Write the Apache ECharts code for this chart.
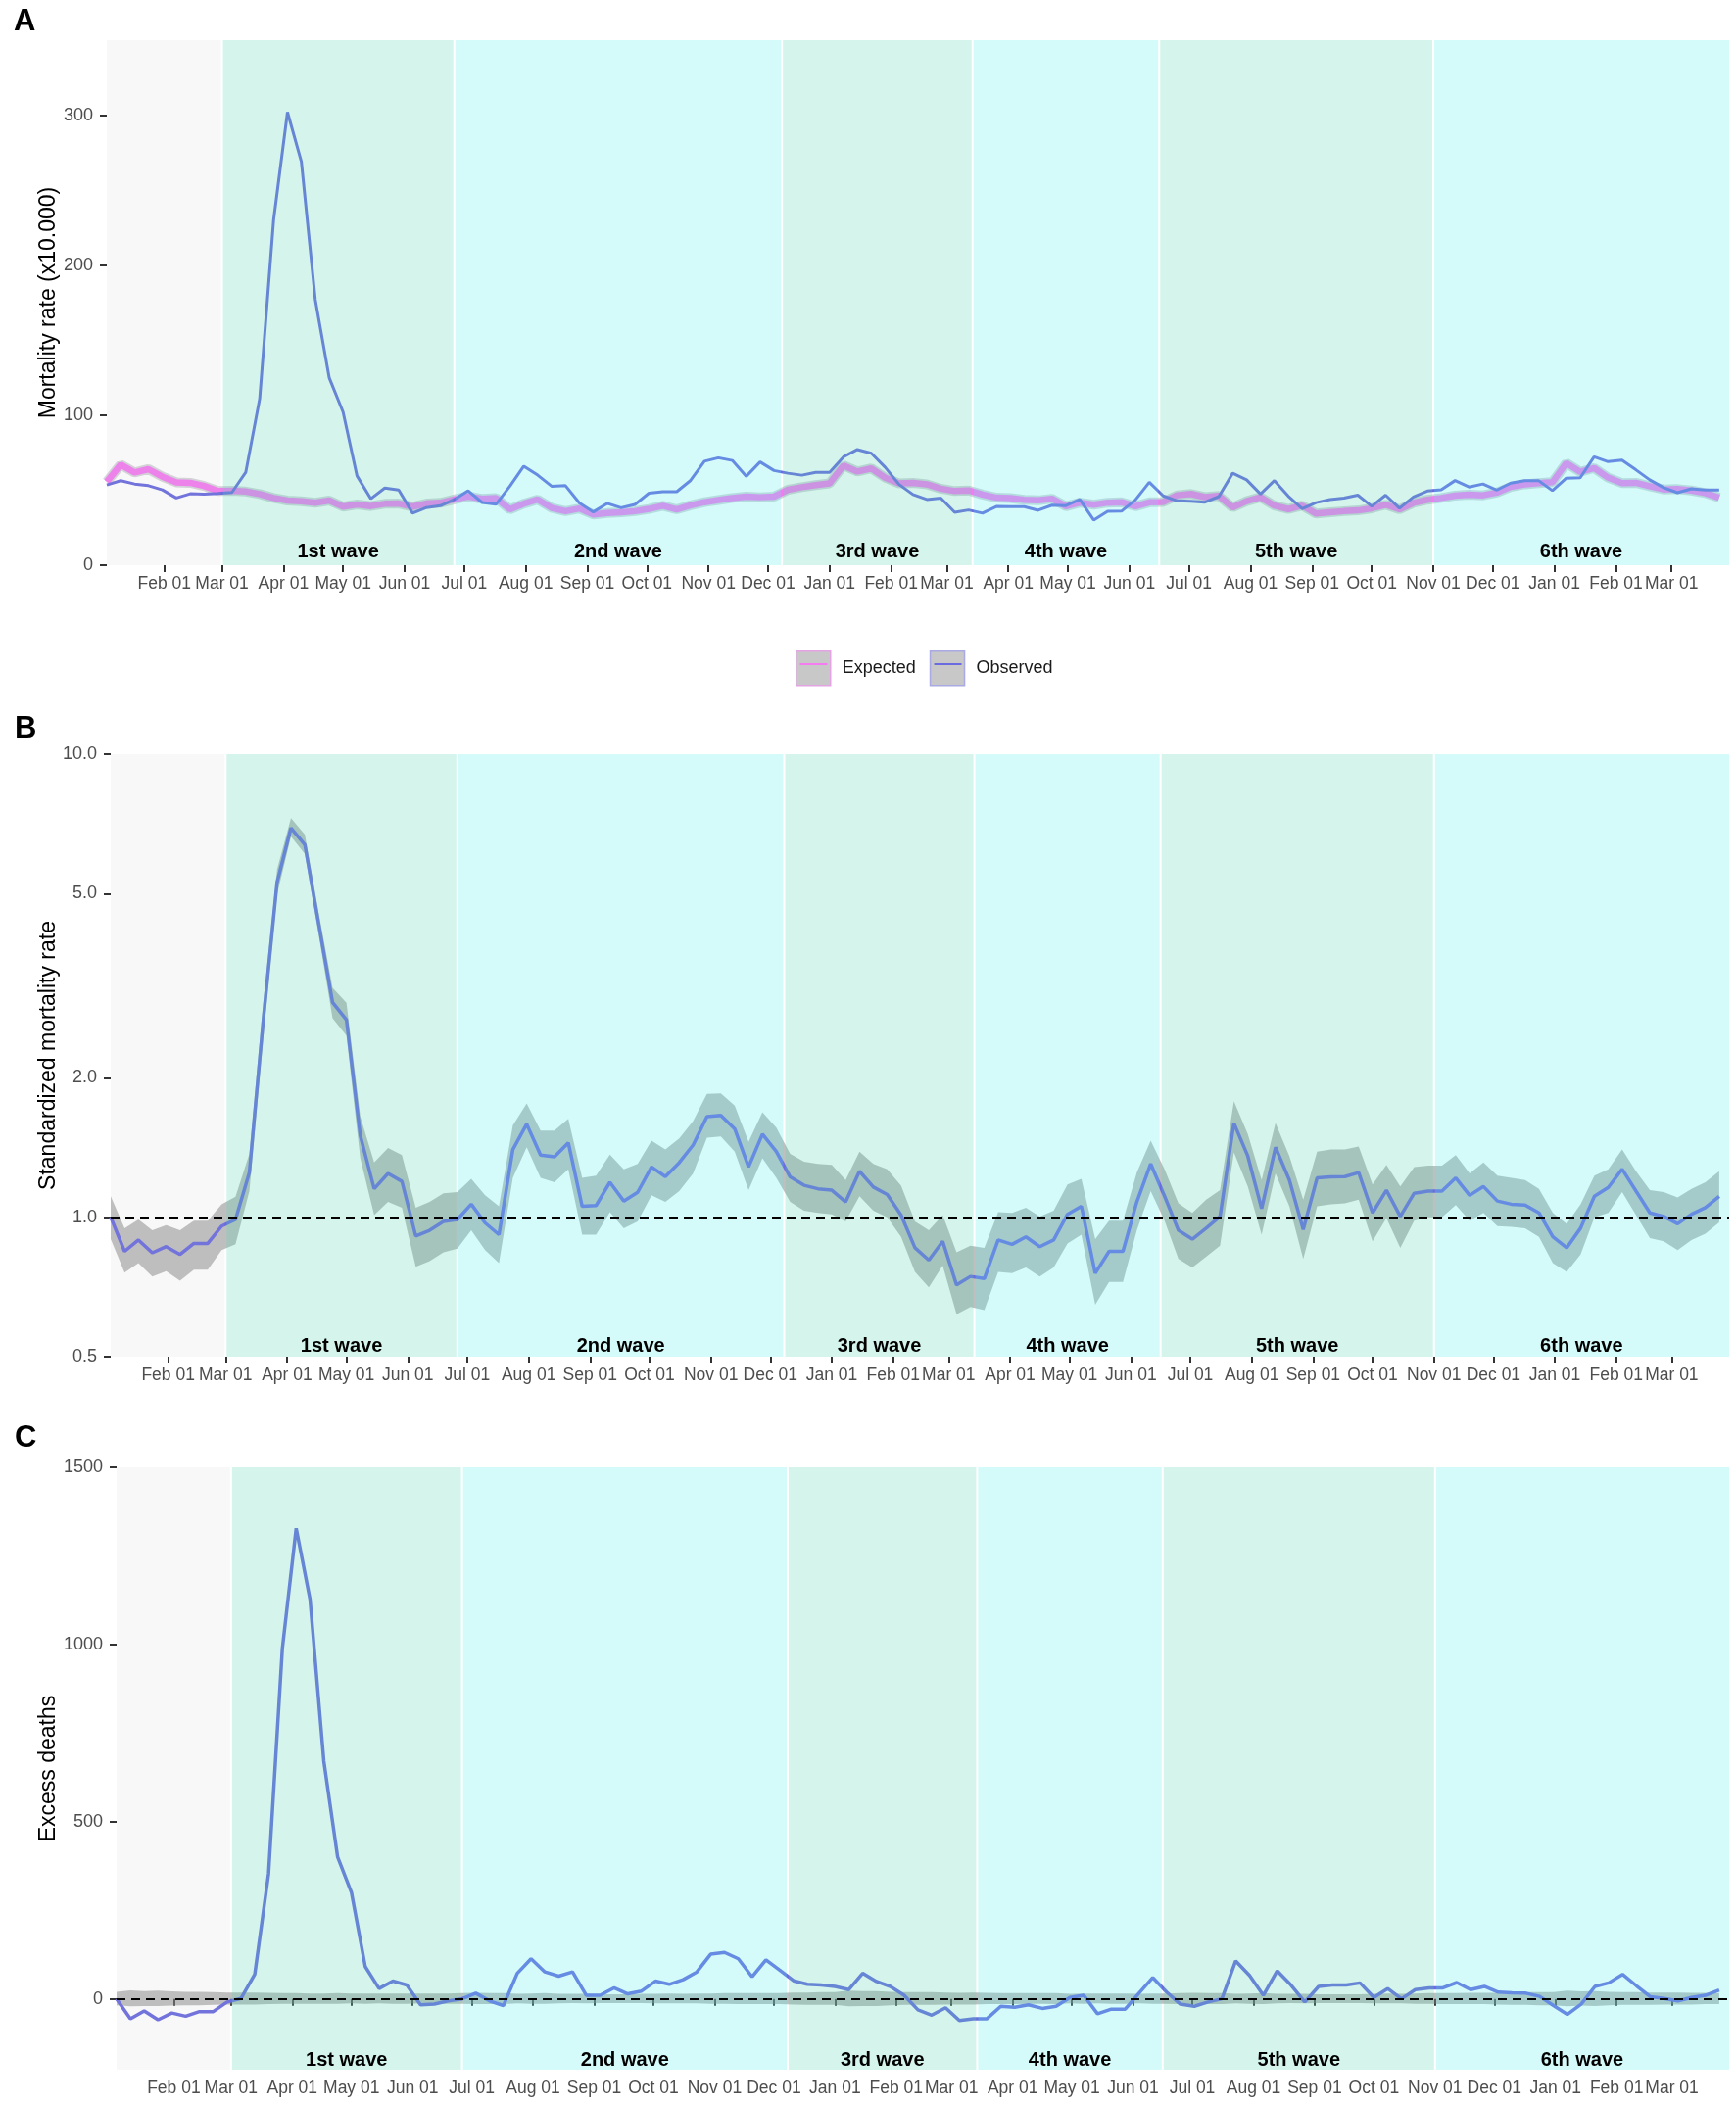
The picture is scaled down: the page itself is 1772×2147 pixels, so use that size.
<!DOCTYPE html>
<html>
<head>
<meta charset="utf-8">
<script src="https://cdn.jsdelivr.net/npm/echarts@6/dist/echarts.min.js"></script>
<style>
  html, body { margin: 0; padding: 0; background: #fff; }
  #chart { width: 1772px; height: 2147px; }
</style>
</head>
<body>
<div id="chart"></div>
<script>
// weekly series, first week on 2020-01-03
const firstWeek = '2020-01-03';
const weekCount = 117;
const xStart = '2020-01-03';
const xEnd = '2022-03-30';

const monthTicks = [
  '2020-02-01', '2020-03-01', '2020-04-01', '2020-05-01', '2020-06-01', '2020-07-01',
  '2020-08-01', '2020-09-01', '2020-10-01', '2020-11-01', '2020-12-01', '2021-01-01',
  '2021-02-01', '2021-03-01', '2021-04-01', '2021-05-01', '2021-06-01', '2021-07-01',
  '2021-08-01', '2021-09-01', '2021-10-01', '2021-11-01', '2021-12-01', '2022-01-01',
  '2022-02-01', '2022-03-01'
];
const monthNames = ['Jan', 'Feb', 'Mar', 'Apr', 'May', 'Jun', 'Jul', 'Aug', 'Sep', 'Oct', 'Nov', 'Dec'];

// periods shaded in the background
const waveStarts = ['2020-01-03', '2020-03-01', '2020-06-26', '2020-12-08', '2021-03-14', '2021-06-16', '2021-11-01'];
const waveLabels = ['', '1st wave', '2nd wave', '3rd wave', '4th wave', '5th wave', '6th wave'];
const waveKinds = ['pre', 'mint', 'cyan', 'mint', 'cyan', 'mint', 'cyan'];

// A: mortality rate (x10.000)
const observedRate = [
  53.5, 56.3, 54.1, 53.0, 50.2, 44.8, 47.6, 47.4, 47.8, 48.5,
  62.0, 111, 230, 302, 269, 177, 125, 102, 59.5, 44.3,
  51.4, 50.1, 34.7, 38.4, 39.6, 43.8, 49.6, 41.8, 40.6, 52.6,
  66.0, 60.0, 52.6, 53.0, 41.5, 35.5, 41.2, 38.3, 40.5, 48.0,
  49.0, 49.0, 56.5, 69.3, 71.6, 69.8, 59.2, 68.8, 63.1, 61.3,
  60.0, 61.9, 61.8, 72.2, 77.1, 74.6, 65.2, 53.8, 47.1, 43.8,
  44.7, 35.3, 36.8, 34.7, 39.1, 39.0, 39.0, 36.6, 40.0, 39.7,
  43.8, 30.1, 35.9, 36.0, 43.5, 55.3, 46.2, 42.9, 42.6, 42.0,
  45.7, 61.3, 56.9, 47.4, 56.4, 46.0, 37.6, 41.7, 43.8, 44.7,
  46.7, 39.3, 46.7, 38.0, 45.5, 49.4, 50.3, 56.4, 52.1, 54.1,
  50.1, 54.7, 56.3, 56.4, 49.7, 58.0, 58.3, 72.2, 69.0, 70.0,
  63.6, 56.9, 51.7, 48.3, 50.9, 50.1, 50.1
];
const expectedRate = [
  55.6, 67.0, 61.8, 64.0, 59.0, 55.2, 54.9, 52.8, 49.5, 49.6,
  49.1, 47.4, 44.8, 43.1, 42.6, 41.6, 43.1, 39.0, 40.5, 39.4,
  40.9, 41.1, 39.0, 41.1, 41.6, 43.8, 45.9, 44.2, 44.8, 37.2,
  41.0, 43.8, 38.2, 36.0, 37.8, 33.8, 34.7, 35.2, 36.0, 37.5,
  39.6, 37.2, 39.9, 42.0, 43.4, 44.8, 45.7, 45.3, 45.7, 50.3,
  52.0, 53.4, 54.5, 66.5, 62.4, 64.5, 58.3, 54.5, 54.9, 53.9,
  51.0, 49.4, 49.8, 47.1, 45.0, 44.7, 43.6, 43.2, 44.3, 39.3,
  41.7, 40.3, 41.7, 42.0, 39.3, 41.9, 42.1, 46.6, 47.5, 45.4,
  46.2, 38.5, 42.7, 45.3, 39.7, 37.4, 39.7, 34.4, 35.3, 36.0,
  36.5, 37.9, 40.3, 37.2, 41.5, 43.6, 44.8, 46.4, 47.0, 46.6,
  48.4, 52.2, 53.9, 54.7, 55.3, 68.1, 62.2, 64.8, 58.4, 54.7,
  54.9, 52.7, 50.5, 50.7, 49.8, 48.1, 45.0
];

// B: standardized mortality rate with 95% CI
const smr = [
  1.00, 0.844, 0.893, 0.838, 0.864, 0.831, 0.878, 0.878, 0.957, 0.989,
  1.249, 2.66, 5.29, 6.93, 6.38, 4.30, 2.91, 2.67, 1.50, 1.152,
  1.243, 1.195, 0.911, 0.937, 0.979, 0.989, 1.067, 0.972, 0.917, 1.40,
  1.589, 1.362, 1.35, 1.448, 1.056, 1.060, 1.19, 1.084, 1.132, 1.284,
  1.224, 1.312, 1.432, 1.649, 1.66, 1.552, 1.284, 1.512, 1.386, 1.222,
  1.172, 1.152, 1.144, 1.079, 1.257, 1.162, 1.120, 1.011, 0.859, 0.808,
  0.887, 0.714, 0.745, 0.737, 0.893, 0.874, 0.907, 0.864, 0.893, 1.015,
  1.056, 0.757, 0.844, 0.844, 1.079, 1.304, 1.110, 0.937, 0.897, 0.947,
  1.004, 1.597, 1.356, 1.044, 1.416, 1.203, 0.941, 1.216, 1.222, 1.224,
  1.249, 1.022, 1.144, 1.004, 1.127, 1.139, 1.139, 1.216, 1.115, 1.165,
  1.084, 1.067, 1.063, 1.022, 0.907, 0.859, 0.947, 1.110, 1.160, 1.270,
  1.139, 1.022, 1.004, 0.968, 1.015, 1.049, 1.110
];
const smrHigh = [
  1.110, 0.947, 0.989, 0.937, 0.962, 0.937, 0.983, 0.983, 1.067, 1.108,
  1.371, 2.905, 5.64, 7.28, 6.71, 4.54, 3.13, 2.905, 1.650, 1.313,
  1.411, 1.362, 1.049, 1.079, 1.127, 1.134, 1.211, 1.115, 1.056, 1.579,
  1.761, 1.539, 1.539, 1.632, 1.216, 1.229, 1.365, 1.270, 1.304, 1.463,
  1.401, 1.479, 1.614, 1.847, 1.851, 1.742, 1.454, 1.686, 1.562, 1.371,
  1.318, 1.304, 1.298, 1.203, 1.386, 1.304, 1.270, 1.170, 0.979, 0.937,
  1.011, 0.840, 0.868, 0.859, 1.026, 1.022, 1.049, 1.004, 1.033, 1.177,
  1.211, 0.897, 0.983, 0.983, 1.249, 1.463, 1.270, 1.072, 1.022, 1.091,
  1.144, 1.780, 1.512, 1.203, 1.597, 1.356, 1.091, 1.386, 1.401, 1.401,
  1.422, 1.177, 1.298, 1.165, 1.284, 1.292, 1.292, 1.362, 1.243, 1.313,
  1.229, 1.216, 1.203, 1.152, 1.022, 0.968, 1.067, 1.229, 1.270, 1.401,
  1.257, 1.144, 1.134, 1.103, 1.152, 1.190, 1.257
];
const smrLow = [
  0.897, 0.759, 0.796, 0.745, 0.765, 0.729, 0.770, 0.770, 0.849, 0.874,
  1.139, 2.441, 4.98, 6.64, 6.09, 4.07, 2.69, 2.467, 1.341, 1.011,
  1.079, 1.049, 0.782, 0.804, 0.840, 0.855, 0.937, 0.849, 0.796, 1.216,
  1.416, 1.216, 1.190, 1.270, 0.917, 0.917, 1.026, 0.947, 0.979, 1.115,
  1.079, 1.139, 1.243, 1.486, 1.495, 1.386, 1.144, 1.341, 1.216, 1.079,
  1.033, 1.022, 1.015, 0.979, 1.110, 1.033, 1.000, 0.907, 0.762, 0.706,
  0.787, 0.617, 0.640, 0.630, 0.762, 0.757, 0.779, 0.745, 0.779, 0.878,
  0.917, 0.647, 0.725, 0.725, 0.937, 1.139, 0.983, 0.813, 0.779, 0.822,
  0.868, 1.380, 1.165, 0.917, 1.243, 1.056, 0.813, 1.056, 1.067, 1.072,
  1.091, 0.887, 0.996, 0.859, 0.983, 1.000, 1.000, 1.063, 0.983, 1.022,
  0.957, 0.953, 0.947, 0.907, 0.796, 0.762, 0.831, 1.000, 1.022, 1.134,
  1.011, 0.901, 0.887, 0.849, 0.893, 0.921, 0.974
];

// C: excess deaths with band
const excessDeaths = [
  0, -56, -34, -59, -40, -49, -36, -36, -9, 1,
  69, 353, 989, 1328, 1128, 671, 400, 300, 91, 29,
  50, 39, -17, -15, -6, 0, 16, -6, -19, 72,
  113, 76, 64, 76, 10, 10, 31, 14, 22, 50,
  41, 54, 76, 126, 131, 113, 62, 110, 81, 51,
  41, 39, 35, 26, 72, 49, 35, 10, -31, -46,
  -25, -61, -56, -56, -21, -24, -17, -27, -21, 4,
  10, -42, -29, -29, 16, 60, 19, -15, -21, -9,
  0, 107, 66, 10, 79, 39, -9, 35, 39, 39,
  45, 4, 29, 0, 26, 31, 31, 46, 26, 35,
  19, 17, 16, 7, -19, -44, -15, 35, 45, 69,
  37, 6, 1, -6, 4, 10, 25
];
const excessHigh = [
  20, 24, 22, 23, 21, 20, 20, 19, 18, 18,
  18, 17, 16, 16, 15, 15, 16, 15, 15, 15,
  15, 15, 15, 15, 15, 16, 17, 16, 16, 14,
  15, 16, 14, 14, 14, 13, 13, 13, 14, 14,
  15, 14, 15, 15, 16, 16, 16, 16, 16, 18,
  18, 19, 19, 23, 22, 22, 20, 19, 19, 19,
  18, 17, 18, 17, 16, 16, 16, 16, 16, 14,
  15, 15, 15, 15, 14, 15, 15, 16, 17, 16,
  16, 14, 15, 16, 14, 14, 14, 13, 13, 13,
  13, 14, 15, 14, 15, 16, 16, 16, 17, 17,
  17, 18, 19, 19, 19, 23, 21, 22, 20, 19,
  19, 18, 18, 18, 17, 17, 16
];
const excessLow = [
  -18, -21, -20, -20, -19, -18, -18, -17, -16, -16,
  -16, -15, -14, -14, -14, -14, -14, -13, -14, -13,
  -14, -14, -13, -14, -14, -14, -15, -15, -15, -13,
  -14, -14, -13, -12, -13, -12, -12, -12, -12, -13,
  -13, -13, -13, -14, -14, -15, -15, -15, -15, -16,
  -17, -17, -17, -21, -20, -20, -18, -17, -17, -17,
  -16, -16, -16, -15, -15, -15, -14, -14, -15, -13,
  -14, -13, -14, -14, -13, -14, -14, -15, -15, -15,
  -15, -13, -14, -15, -13, -12, -13, -12, -12, -12,
  -12, -13, -13, -13, -14, -14, -15, -15, -15, -15,
  -16, -17, -17, -18, -18, -21, -19, -20, -18, -17,
  -17, -17, -16, -16, -16, -15, -15
];

const FONT = '"Liberation Sans", Arial, sans-serif';
const OBS = '#6B6BE0';
const EXP = '#F27CF0';
const waveFill = {
  pre: 'rgba(185,185,185,0.10)',
  mint: 'rgba(88,216,180,0.25)',
  cyan: 'rgba(84,240,232,0.25)'
};

function toTime(s) {
  const p = s.split('-').map(Number);
  return new Date(p[0], p[1] - 1, p[2]).getTime();
}

const first = toTime(firstWeek);
const weeks = [];
for (let i = 0; i < weekCount; i++) {
  const d = new Date(first);
  d.setDate(d.getDate() + 7 * i);
  weeks.push(d.getTime());
}
const pairs = arr => arr.map((v, i) => [weeks[i], v]);
const tickTimes = monthTicks.map(toTime);

const panels = [
  { left: 109, top: 41, height: 536, yRef: 100, labelOffset: 14 },
  { left: 113, top: 770, height: 615, yRef: 1, labelOffset: 11 },
  { left: 119, top: 1498, height: 615, yRef: 0, labelOffset: 10 }
];

// dates are kept as timestamps on a value axis; ticks sit on the first of each month
function xAxisFor(g) {
  return {
    type: 'value', gridIndex: g, min: toTime(xStart), max: toTime(xEnd),
    axisLine: { show: false },
    axisTick: { show: true, customValues: tickTimes, length: 7, lineStyle: { color: '#333', width: 2 } },
    axisLabel: {
      customValues: tickTimes, hideOverlap: false,
      formatter: v => monthNames[new Date(v).getMonth()] + ' 01',
      fontSize: 17.5, color: '#4D4D4D', fontFamily: FONT, margin: 10
    },
    splitLine: { show: false }
  };
}

function yAxisCommon(g, name, gap, ticks) {
  return {
    gridIndex: g, name: name, nameLocation: 'middle', nameGap: gap, nameMoveOverlap: false,
    nameTextStyle: { fontSize: 23, color: '#000', fontFamily: FONT },
    axisLine: { show: false },
    axisTick: { show: true, customValues: ticks, length: 7, lineStyle: { color: '#333', width: 2 } },
    axisLabel: { customValues: ticks, fontSize: 18, color: '#4D4D4D', fontFamily: FONT, margin: 14, formatter: v => String(v) },
    splitLine: { show: false }
  };
}

function waveLayer(g) {
  const yRef = panels[g].yRef;
  const off = panels[g].labelOffset;
  return {
    type: 'custom', name: 'waves' + g, xAxisIndex: g, yAxisIndex: g, z: 3, silent: true,
    data: waveStarts.map((s, k) => [toTime(s), toTime(waveStarts[k + 1] || xEnd), k, yRef]),
    encode: { x: [0, 1], y: 3 },
    renderItem: function (params, api) {
      const cs = params.coordSys;
      const k = api.value(2);
      let x1 = api.coord([api.value(0), yRef])[0];
      let x2 = api.coord([api.value(1), yRef])[0];
      x1 = Math.max(x1, cs.x);
      x2 = Math.min(x2, cs.x + cs.width);
      const gl = k === 0 ? 0 : 1;
      const gr = k === waveStarts.length - 1 ? 0 : 1;
      const children = [{
        type: 'rect',
        shape: { x: x1 + gl, y: cs.y, width: x2 - x1 - gl - gr, height: cs.height },
        style: { fill: waveFill[waveKinds[k]] }
      }];
      if (waveLabels[k]) {
        children.push({
          type: 'text',
          style: {
            text: waveLabels[k], x: (x1 + x2) / 2, y: cs.y + cs.height - off,
            align: 'center', verticalAlign: 'middle',
            fontSize: 20, fontWeight: 'bold', fontFamily: FONT, fill: '#000'
          }
        });
      }
      return { type: 'group', children: children };
    }
  };
}

function bandLayer(g, low, high, color) {
  return {
    type: 'custom', name: 'band' + g, xAxisIndex: g, yAxisIndex: g, z: 1, silent: true,
    data: weeks.map((d, i) => [d, low[i], high[i]]),
    encode: { x: 0, y: [1, 2] },
    renderItem: function (params, api) {
      if (params.dataIndex !== 0) return null;
      const up = [], lo = [];
      for (let i = 0; i < weeks.length; i++) {
        up.push(api.coord([weeks[i], high[i]]));
        lo.push(api.coord([weeks[i], low[i]]));
      }
      return { type: 'polygon', shape: { points: up.concat(lo.reverse()) }, style: { fill: color } };
    }
  };
}

function refLine(v) {
  return {
    symbol: ['none', 'none'], silent: true, label: { show: false },
    lineStyle: { color: '#000', type: [9, 6], width: 2 },
    data: [{ yAxis: v }]
  };
}

const chart = echarts.init(document.getElementById('chart'), null, { renderer: 'canvas' });

const letterStyle = { fontSize: 31, fontWeight: 'bold', color: '#000', fontFamily: FONT };

const option = {
  animation: false,
  backgroundColor: '#fff',
  textStyle: { fontFamily: FONT },
  title: [
    { text: 'A', left: 14, top: 7, padding: 0, textStyle: letterStyle },
    { text: 'B', left: 15, top: 729, padding: 0, textStyle: letterStyle },
    { text: 'C', left: 15, top: 1453, padding: 0, textStyle: letterStyle }
  ],
  legend: [
    {
      data: [
        { name: 'Expected', itemStyle: { color: '#C8C8C8', borderColor: '#E4A4E4', borderWidth: 1.5 } },
        { name: 'Observed', itemStyle: { color: '#C8C8C8', borderColor: '#A9A9E4', borderWidth: 1.5 } }
      ],
      icon: 'rect', left: 812, top: 664, itemWidth: 35, itemHeight: 35, itemGap: 14,
      padding: 0, selectedMode: false,
      textStyle: { fontSize: 18, color: '#1A1A1A', fontFamily: FONT, padding: [0, 0, 0, 7] }
    },
    {
      data: ['Expected', 'Observed'], z: 6,
      left: 815.5, top: 664, itemWidth: 28, itemHeight: 35, itemGap: 21,
      padding: 0, selectedMode: false,
      lineStyle: { width: 2 },
      itemStyle: { color: 'rgba(0,0,0,0)', borderWidth: 0, opacity: 0 },
      textStyle: { fontSize: 18, color: 'rgba(0,0,0,0)', fontFamily: FONT, padding: [0, 0, 0, 7] }
    }
  ],
  grid: panels.map(p => ({ left: p.left, right: 7, top: p.top, height: p.height, outerBoundsMode: 'none' })),
  xAxis: [xAxisFor(0), xAxisFor(1), xAxisFor(2)],
  yAxis: [
    Object.assign(yAxisCommon(0, 'Mortality rate (x10.000)', 48, [0, 100, 200, 300]), { type: 'value', min: 0, max: 350 }),
    (function () {
      const a = Object.assign(yAxisCommon(1, 'Standardized mortality rate', 52, [0.5, 1, 2, 5, 10]), { type: 'log', logBase: 10, min: 0.5, max: 10 });
      a.axisLabel.formatter = v => Number(v).toFixed(1);
      return a;
    })(),
    Object.assign(yAxisCommon(2, 'Excess deaths', 58, [0, 500, 1000, 1500]), { type: 'value', min: -200, max: 1500 })
  ],
  series: [
    // panel A
    { type: 'line', name: 'Expected band', xAxisIndex: 0, yAxisIndex: 0, data: pairs(expectedRate), symbol: 'none', silent: true, z: 1,
      lineStyle: { color: 'rgba(150,150,165,0.4)', width: 10 } },
    { type: 'line', name: 'Expected', xAxisIndex: 0, yAxisIndex: 0, data: pairs(expectedRate), symbol: 'none', silent: true, z: 2,
      itemStyle: { color: EXP }, lineStyle: { color: EXP, width: 6.5 } },
    { type: 'line', name: 'Observed', xAxisIndex: 0, yAxisIndex: 0, data: pairs(observedRate), symbol: 'none', silent: true, z: 2,
      itemStyle: { color: OBS }, lineStyle: { color: OBS, width: 3 } },
    waveLayer(0),
    // panel B
    bandLayer(1, smrLow, smrHigh, 'rgba(128,128,128,0.5)'),
    { type: 'line', name: 'SMR', xAxisIndex: 1, yAxisIndex: 1, data: pairs(smr), symbol: 'none', silent: true, z: 2,
      itemStyle: { color: OBS }, lineStyle: { color: OBS, width: 3.5 }, markLine: refLine(1) },
    waveLayer(1),
    // panel C
    bandLayer(2, excessLow, excessHigh, 'rgba(128,128,128,0.5)'),
    { type: 'line', name: 'Excess deaths', xAxisIndex: 2, yAxisIndex: 2, data: pairs(excessDeaths), symbol: 'none', silent: true, z: 2,
      itemStyle: { color: OBS }, lineStyle: { color: OBS, width: 3.5 }, markLine: refLine(0) },
    waveLayer(2)
  ]
};

chart.setOption(option);
</script>
</body>
</html>
